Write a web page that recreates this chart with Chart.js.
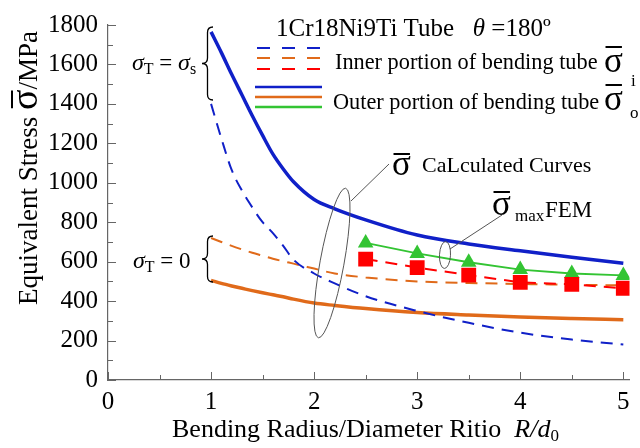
<!DOCTYPE html>
<html>
<head>
<meta charset="utf-8">
<script src="https://cdn.jsdelivr.net/npm/chart.js@4"></script>
<style>
html,body{margin:0;padding:0;background:#fff;}
canvas{display:block;}
</style>
</head>
<body>
<canvas id="c" width="640" height="448"></canvas>
<script>
// ---- data ----
const xCalc = [1, 1.1, 1.2, 1.3, 1.4, 1.5, 1.6, 1.7, 1.8, 2, 2.2, 2.5, 3, 3.5, 4, 4.5, 5];
const outerYield = [1765, 1660, 1550, 1445, 1340, 1240, 1145, 1070, 1005, 915, 868, 812, 735, 690, 655, 622, 592];
const innerYield = [1400, 1225, 1065, 960, 875, 800, 745, 680, 610, 540, 490, 425, 350, 290, 240, 205, 180];
const innerZero  = [720, 700, 680, 662, 645, 630, 615, 602, 590, 565, 540, 520, 500, 492, 487, 483, 480];
const outerZero  = [505, 490, 477, 465, 453, 442, 432, 422, 410, 390, 378, 362, 342, 330, 320, 312, 305];
const xFem = [2.5, 3, 3.5, 4, 4.5, 5];
const femOuter = [695, 642, 597, 560, 540, 530];
const femInner = [613, 570, 532, 495, 485, 465];
const xTicks = [0, 0.5, 1, 1.5, 2, 2.5, 3, 3.5, 4, 4.5, 5];
const yTicks = [0, 200, 400, 600, 800, 1000, 1200, 1400, 1600, 1800];

const BLUE = '#1020c8', ORANGE = '#e06a1a', RED = '#ff0000', GREEN = '#33c433';
const FAM = "'Liberation Serif', 'Times New Roman', serif";
function F(size, style) { return (style ? style + ' ' : '') + size + 'px ' + FAM; }
function pts(xs, ys) { return xs.map((x, i) => ({x: x, y: ys[i]})); }

function drawRuns(ctx, x, y, parts) {
  let cx = x;
  for (const p of parts) {
    ctx.font = p.f;
    const w = ctx.measureText(p.t).width;
    ctx.fillText(p.t, cx, y + (p.dy || 0));
    if (p.bar !== undefined) {
      ctx.save();
      ctx.lineWidth = p.barW || 2;
      ctx.beginPath();
      ctx.moveTo(cx + w * 0.08, y + p.bar);
      ctx.lineTo(cx + w * 0.95, y + p.bar);
      ctx.stroke();
      ctx.restore();
    }
    cx += w + (p.sp || 0);
  }
  return cx;
}
function runsWidth(ctx, parts) {
  let w = 0;
  for (const p of parts) { ctx.font = p.f; w += ctx.measureText(p.t).width + (p.sp || 0); }
  return w;
}
function brace(ctx, xr, yt, yb, d) {
  const mid = (yt + yb) / 2, xm = xr - d / 2, xl = xr - d, r = d / 2;
  ctx.beginPath();
  ctx.moveTo(xr, yt);
  ctx.quadraticCurveTo(xm, yt, xm, yt + r);
  ctx.lineTo(xm, mid - r);
  ctx.quadraticCurveTo(xm, mid, xl, mid);
  ctx.quadraticCurveTo(xm, mid, xm, mid + r);
  ctx.lineTo(xm, yb - r);
  ctx.quadraticCurveTo(xm, yb, xr, yb);
  ctx.stroke();
}

const decor = {
  id: 'decor',
  afterDraw(chart) {
    const ctx = chart.ctx, xs = chart.scales.x, ys = chart.scales.y;
    ctx.save();
    // inward ticks
    ctx.strokeStyle = '#666'; ctx.lineWidth = 1;
    const x0 = xs.left, y0 = ys.bottom;
    xs.ticks.forEach(t => {
      const px = Math.round(xs.getPixelForValue(t.value)) + 0.5;
      const len = Number.isInteger(t.value) ? 8 : 5;
      ctx.beginPath(); ctx.moveTo(px, y0); ctx.lineTo(px, y0 - len); ctx.stroke();
    });
    ys.ticks.forEach(t => {
      const py = Math.round(ys.getPixelForValue(t.value)) + 0.5;
      const len = (t.value % 200 === 0) ? 8 : 5;
      ctx.beginPath(); ctx.moveTo(x0, py); ctx.lineTo(x0 + len, py); ctx.stroke();
    });

    ctx.fillStyle = '#000'; ctx.strokeStyle = '#000';
    ctx.textBaseline = 'alphabetic'; ctx.textAlign = 'left';

    // legend block
    drawRuns(ctx, 276, 36, [
      {t: '1Cr18Ni9Ti Tube   ', f: F(25)},
      {t: 'θ', f: F(25, 'italic')},
      {t: ' =180', f: F(25)},
      {t: 'º', f: F(25)}
    ]);
    ctx.lineWidth = 2;
    ctx.setLineDash([13, 12]);
    [[BLUE, 48], [ORANGE, 58], [RED, 69]].forEach(([c, y]) => {
      ctx.strokeStyle = c; ctx.beginPath(); ctx.moveTo(257, y); ctx.lineTo(322, y); ctx.stroke();
    });
    ctx.setLineDash([]);
    ctx.lineWidth = 2.5;
    [[BLUE, 87], [ORANGE, 97], [GREEN, 107]].forEach(([c, y]) => {
      ctx.strokeStyle = c; ctx.beginPath(); ctx.moveTo(255, y); ctx.lineTo(322, y); ctx.stroke();
    });
    ctx.strokeStyle = '#000';
    drawRuns(ctx, 335, 69, [{t: 'Inner portion of bending tube', f: F(22.3)}]);
    drawRuns(ctx, 604, 72, [{t: 'σ', f: F(35), bar: -25}]);
    drawRuns(ctx, 631, 86, [{t: 'i', f: F(17)}]);
    drawRuns(ctx, 333, 109, [{t: 'Outer portion of bending tube', f: F(22.3)}]);
    drawRuns(ctx, 604, 110, [{t: 'σ', f: F(35), bar: -25}]);
    drawRuns(ctx, 630, 118, [{t: 'o', f: F(17)}]);

    // annotations
    ctx.strokeStyle = '#555'; ctx.lineWidth = 1;
    ctx.beginPath(); ctx.ellipse(332, 263, 12, 76, 0.18, 0, Math.PI * 2); ctx.stroke();
    ctx.beginPath(); ctx.moveTo(351, 201); ctx.lineTo(389, 164); ctx.stroke();
    ctx.beginPath(); ctx.ellipse(445, 255, 5.5, 13.5, 0.05, 0, Math.PI * 2); ctx.stroke();
    ctx.beginPath(); ctx.moveTo(450, 249); ctx.lineTo(502, 215); ctx.stroke();
    ctx.strokeStyle = '#000';
    drawRuns(ctx, 392, 175, [{t: 'σ', f: F(35), bar: -21}]);
    drawRuns(ctx, 422, 172, [{t: 'CaLculated Curves', f: F(22)}]);
    drawRuns(ctx, 492, 215, [{t: 'σ', f: F(35), bar: -23}]);
    drawRuns(ctx, 515, 221, [{t: 'max', f: F(17)}]);
    drawRuns(ctx, 545, 217, [{t: 'FEM', f: F(23)}]);

    // braces
    ctx.lineWidth = 1.3;
    brace(ctx, 213, 27, 100, 11);
    brace(ctx, 213, 236, 282, 11);
    drawRuns(ctx, 132, 70, [
      {t: 'σ', f: F(24, 'italic')}, {t: 'T', f: F(16), dy: 4},
      {t: ' = ', f: F(23)}, {t: 'σ', f: F(24, 'italic')}, {t: 's', f: F(16), dy: 4}
    ]);
    drawRuns(ctx, 133, 268, [
      {t: 'σ', f: F(24, 'italic')}, {t: 'T', f: F(16), dy: 4}, {t: ' = 0', f: F(23)}
    ]);

    // axis titles
    const xt = [
      {t: 'Bending Radius/Diameter Ritio  ', f: F(26)},
      {t: 'R/d', f: F(26, 'italic')},
      {t: '0', f: F(17), dy: 4}
    ];
    drawRuns(ctx, 172, 437, xt);
    const yt = [
      {t: 'Equivalent Stress ', f: F(27)},
      {t: 'σ', f: F(38), bar: -25},
      {t: '/MPa', f: F(27)}
    ];
    ctx.save();
    ctx.translate(37, 168);
    ctx.rotate(-Math.PI / 2);
    drawRuns(ctx, -runsWidth(ctx, yt) / 2, 0, yt);
    ctx.restore();
    ctx.restore();
  }
};

new Chart(document.getElementById('c'), {
  type: 'scatter',
  data: {
    datasets: [
      {data: pts(xFem, femOuter), showLine: true, borderColor: GREEN, backgroundColor: GREEN, borderWidth: 1.8,
       pointStyle: 'triangle', pointRadius: 9, pointBorderWidth: 0, order: 1},
      {data: pts(xFem, femInner), showLine: true, borderColor: RED, backgroundColor: RED, borderWidth: 2,
       borderDash: [12, 8], pointStyle: 'rect', pointRadius: 10.5, pointBorderWidth: 0, order: 0},
      {data: pts(xCalc, outerYield), showLine: true, borderColor: BLUE, borderWidth: 3.5, pointRadius: 0, cubicInterpolationMode: 'monotone', order: 3},
      {data: pts(xCalc, innerYield), showLine: true, borderColor: BLUE, borderWidth: 2, borderDash: [12, 8], pointRadius: 0, cubicInterpolationMode: 'monotone', order: 4},
      {data: pts(xCalc, innerZero), showLine: true, borderColor: ORANGE, borderWidth: 2, borderDash: [12, 8], pointRadius: 0, cubicInterpolationMode: 'monotone', order: 5},
      {data: pts(xCalc, outerZero), showLine: true, borderColor: ORANGE, borderWidth: 3.5, pointRadius: 0, cubicInterpolationMode: 'monotone', order: 6}
    ]
  },
  options: {
    responsive: false,
    animation: false,
    events: [],
    layout: {padding: {left: 0, right: 0, top: 20, bottom: 0}},
    plugins: {legend: {display: false}, tooltip: {enabled: false}},
    scales: {
      x: {
        type: 'linear', min: 0, max: 5.06,
        afterBuildTicks: s => { s.ticks = xTicks.map(v => ({value: v})); },
        afterFit: s => { s.height = 68; },
        grid: {display: false, drawTicks: false},
        border: {display: true, color: '#666', width: 1.2},
        ticks: {autoSkip: false, maxRotation: 0, padding: 7, color: '#000', font: {family: FAM, size: 25},
                callback: v => Number.isInteger(v) ? String(v) : ''}
      },
      y: {
        type: 'linear', min: 0, max: 1800,
        afterBuildTicks: s => {
          const t = [];
          for (let i = 0; i < yTicks.length; i++) {
            t.push({value: yTicks[i]});
            if (i < yTicks.length - 1) t.push({value: (yTicks[i] + yTicks[i + 1]) / 2});
          }
          s.ticks = t;
        },
        afterFit: s => { s.width = 108; },
        grid: {display: false, drawTicks: false},
        border: {display: true, color: '#666', width: 1.2},
        ticks: {autoSkip: false, padding: 10, color: '#000', font: {family: FAM, size: 25},
                callback: v => (v % 200 === 0) ? String(v) : ''}
      }
    }
  },
  plugins: [decor]
});
</script>
</body>
</html>
